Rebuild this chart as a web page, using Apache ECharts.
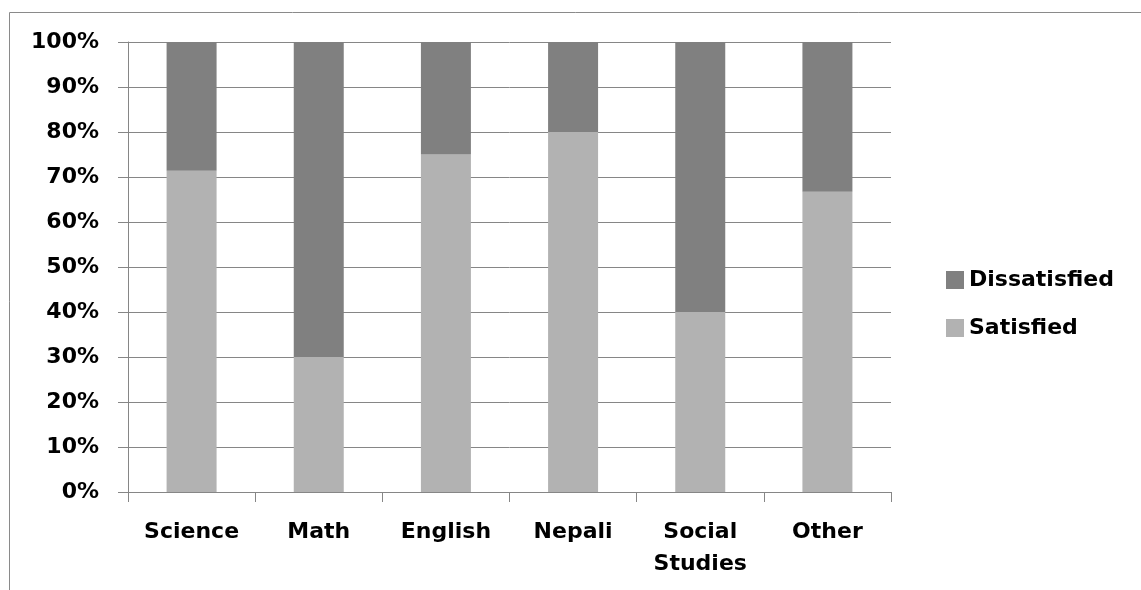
<!DOCTYPE html>
<html>
<head>
<meta charset="utf-8">
<script src="https://cdn.jsdelivr.net/npm/echarts@6/dist/echarts.min.js"></script>
<style>
  html, body { margin: 0; padding: 0; background: #fff; }
  #main { width: 1141px; height: 590px; }
</style>
</head>
<body>
<div id="main"></div>
<script>
// 科目
var subjects = ['Science', 'Math', 'English', 'Nepali', 'Social\nStudies', 'Other'];
// 满意 / 不满意 (%)
var satisfied = [71.4, 30, 75, 80, 40, 66.7];
var dissatisfied = [28.6, 70, 25, 20, 60, 33.3];
var yTicks = { min: 0, max: 100, step: 10 };

var myChart = echarts.init(document.getElementById('main'));

var labelFont = {
    color: '#000',
    fontFamily: 'DejaVu Sans',
    fontWeight: 'bold',
    fontSize: 22
};

option = {
    animation: false,
    graphic: [{
        type: 'rect',
        shape: { x: 9.5, y: 12.5, width: 1300, height: 700 },
        style: { fill: 'none', stroke: '#8a8a8a', lineWidth: 1 },
        silent: true
    }],
    legend: {
        orient: 'vertical',
        left: 941,
        top: 264,
        itemWidth: 18,
        itemHeight: 18,
        itemGap: 26,
        icon: 'rect',
        data: ['Dissatisfied', 'Satisfied'],
        textStyle: labelFont
    },
    grid: {
        left: 128,
        right: 250,
        top: 42,
        bottom: 98
    },
    xAxis: {
        type: 'category',
        data: subjects,
        axisLine: { lineStyle: { color: '#868686', width: 1 } },
        axisTick: { show: true, length: 10, lineStyle: { color: '#868686' } },
        axisLabel: Object.assign({ margin: 24, lineHeight: 32, interval: 0 }, labelFont)
    },
    yAxis: {
        type: 'value',
        min: yTicks.min,
        max: yTicks.max,
        interval: yTicks.step,
        axisLine: { show: true, lineStyle: { color: '#868686', width: 1 } },
        axisTick: { show: true, length: 10, lineStyle: { color: '#868686' } },
        splitLine: { lineStyle: { color: '#868686', width: 1 } },
        axisLabel: Object.assign({ margin: 29, formatter: '{value}%' }, labelFont)
    },
    series: [
        {
            name: 'Satisfied',
            type: 'bar',
            stack: 'total',
            barWidth: 50,
            itemStyle: { color: '#b2b2b2' },
            data: satisfied
        },
        {
            name: 'Dissatisfied',
            type: 'bar',
            stack: 'total',
            barWidth: 50,
            itemStyle: { color: '#808080' },
            data: dissatisfied
        }
    ]
};

myChart.setOption(option);
</script>
</body>
</html>
